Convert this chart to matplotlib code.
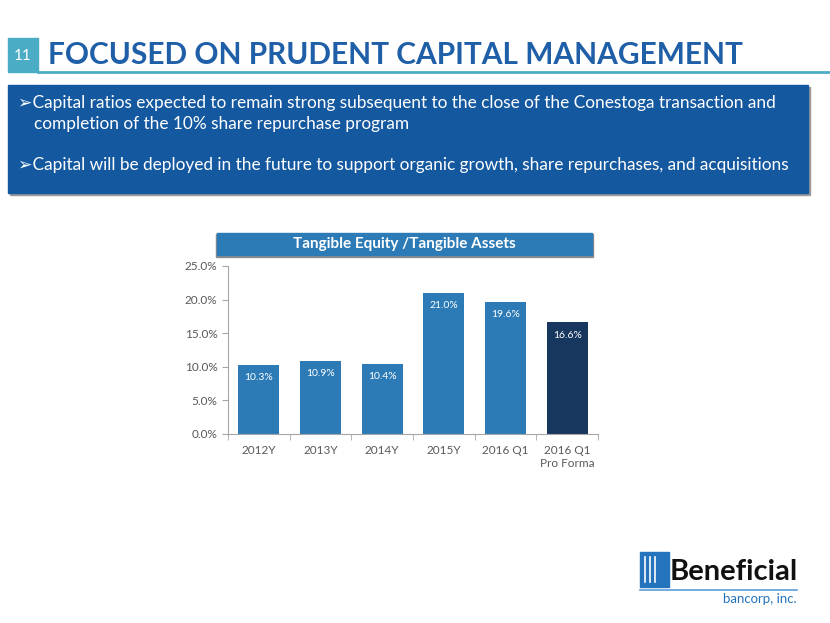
import matplotlib.pyplot as plt
from matplotlib.patches import Rectangle

plt.rcParams['font.family'] = ['Lato', 'DejaVu Sans']

categories = ['2012Y', '2013Y', '2014Y', '2015Y', '2016 Q1', '2016 Q1\nPro Forma']
values = [10.3, 10.9, 10.4, 21.0, 19.6, 16.6]
labels = ['10.3%', '10.9%', '10.4%', '21.0%', '19.6%', '16.6%']
bar_colors = ['#2c7bb6'] * 5 + ['#17375e']
yticks = [0, 5, 10, 15, 20, 25]

W, H = 830, 623
fig = plt.figure(figsize=(W / 100, H / 100), dpi=100)


def px(x, y, w, h):
    # pixel box (top-left origin) -> figure fraction
    return [x / W, 1 - (y + h) / H, w / W, h / H]


bg = fig.add_axes([0, 0, 1, 1])
bg.set_xlim(0, W)
bg.set_ylim(H, 0)
bg.axis('off')

# header
bg.add_patch(Rectangle((8, 38), 30, 34, color='#4bacc6'))
bg.text(23, 56, '11', color='white', fontsize=11, ha='center', va='center')
bg.plot([38, 830], [72, 72], color='#4bacc6', lw=2)
bg.text(48, 55, 'FOCUSED ON PRUDENT CAPITAL MANAGEMENT', color='#1f5fa8',
        fontsize=21.5, fontweight='bold', ha='left', va='center')

# bullet box
bg.add_patch(Rectangle((10, 87), 800, 108, color='#9a9a9a'))
bg.add_patch(Rectangle((8, 85), 800, 108, color='#14589f'))
bullet_kw = dict(color='white', fontsize=12.4, ha='left', va='center')
bg.text(18, 103, '\u27a2Capital ratios expected to remain strong subsequent to the close of the Conestoga transaction and', **bullet_kw)
bg.text(34, 124, 'completion of the 10% share repurchase program', **bullet_kw)
bg.text(18, 165, '\u27a2Capital will be deployed in the future to support organic growth, share repurchases, and acquisitions', **bullet_kw)

# chart title box
bg.add_patch(Rectangle((216, 234), 377, 23, color='#8c8c8c'))
bg.add_patch(Rectangle((217, 233), 375, 22, color='#2c7bb6'))
bg.text(404, 244, 'Tangible Equity /Tangible Assets', color='white', fontsize=11,
        fontweight='bold', ha='center', va='center')

# logo
bg.add_patch(Rectangle((640, 552), 29, 35, color='#2474bd'))
for lx in [645, 650, 655]:
    bg.plot([lx, lx], [557, 582], color='white', lw=1.2)
bg.text(670, 572, 'Beneficial', color='#111111', fontsize=21, fontweight='bold',
        ha='left', va='center')
bg.plot([640, 797], [590, 590], color='#5aa0dc', lw=1.2)
bg.text(797, 599, 'bancorp, inc.', color='#2474bd', fontsize=9.5, ha='right', va='center')

# chart
ax = fig.add_axes(px(228, 266, 370, 168))
x = range(len(categories))
bars = ax.bar(x, values, width=0.67, color=bar_colors)
for b, lab in zip(bars, labels):
    ax.text(b.get_x() + b.get_width() / 2, b.get_height() - 1.2, lab, color='white',
            fontsize=7.5, ha='center', va='top')
ax.set_xlim(-0.5, len(categories) - 0.5)
ax.set_ylim(0, 25)
ax.set_yticks(yticks)
ax.set_yticklabels([f'{t:.1f}%' for t in yticks])
ax.set_xticks(list(x))
ax.set_xticklabels(categories)
ax.set_xticks([i - 0.5 for i in range(len(categories) + 1)], minor=True)
ax.tick_params(axis='x', which='major', length=0, pad=8, labelsize=8.5, labelcolor='#595959')
ax.tick_params(axis='x', which='minor', length=4, color='#a6a6a6')
ax.tick_params(axis='y', length=4, color='#a6a6a6', labelsize=8.5, labelcolor='#595959')
for s in ['top', 'right']:
    ax.spines[s].set_visible(False)
for s in ['left', 'bottom']:
    ax.spines[s].set_color('#a6a6a6')

fig.savefig('out.png', dpi=100)
